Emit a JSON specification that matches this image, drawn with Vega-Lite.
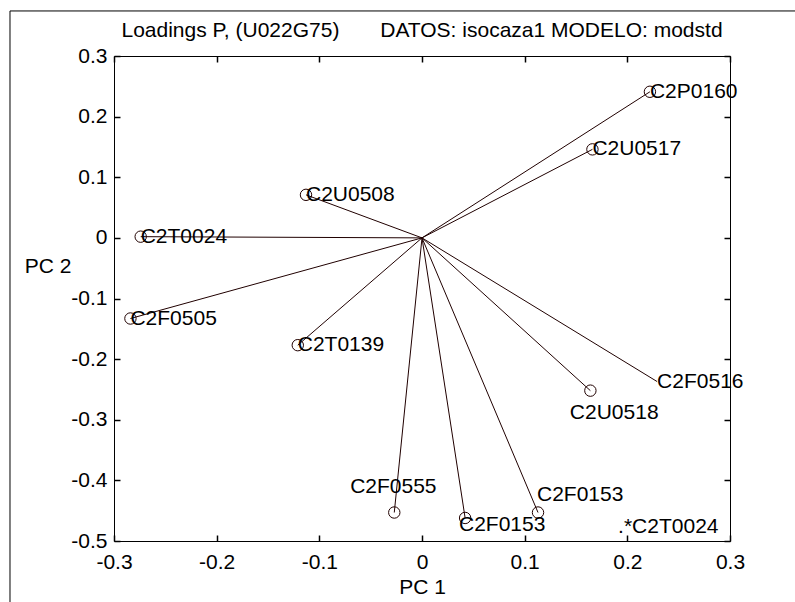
{
  "$schema": "https://vega.github.io/schema/vega-lite/v6.json",
  "width": 616,
  "height": 485,
  "autosize": {"type": "none"},
  "padding": {"left": 114, "top": 56, "right": 65, "bottom": 61},
  "background": "white",
  "config": {
    "font": "Liberation Sans",
    "view": {"stroke": "black", "strokeWidth": 1},
    "axis": {
      "grid": false,
      "domain": false,
      "ticks": true,
      "tickSize": 6,
      "offset": -6,
      "tickColor": "black",
      "tickWidth": 1.5,
      "tickOpacity": 1,
      "labelColor": "black",
      "labelFontSize": 21,
      "labelFlush": false,
      "labelOverlap": false,
      "labelBound": false,
      "titleColor": "black",
      "titleFontSize": 21,
      "titleFontWeight": "normal"
    }
  },
  "title": {
    "text": "Loadings P, (U022G75)\u00a0\u00a0\u00a0\u00a0\u00a0\u00a0\u00a0DATOS: isocaza1 MODELO: modstd",
    "fontSize": 21,
    "fontWeight": "normal",
    "color": "black",
    "anchor": "middle",
    "frame": "group",
    "baseline": "alphabetic",
    "offset": 14,
    "dy": 62
  },
  "datasets": {
    "loadings": [
      {"name": "C2P0160", "x": 0.222, "y": 0.241, "marker": "o"},
      {"name": "C2U0517", "x": 0.166, "y": 0.146, "marker": "o"},
      {"name": "C2U0508", "x": -0.113, "y": 0.071, "marker": "o"},
      {"name": "C2T0024", "x": -0.274, "y": 0.002, "marker": "o"},
      {"name": "C2F0505", "x": -0.284, "y": -0.133, "marker": "o"},
      {"name": "C2T0139", "x": -0.121, "y": -0.177, "marker": "o"},
      {"name": "C2U0518", "x": 0.164, "y": -0.252, "marker": "o"},
      {"name": "C2F0516", "x": 0.229, "y": -0.237, "marker": ""},
      {"name": "C2F0555", "x": -0.027, "y": -0.453, "marker": "o"},
      {"name": "C2F0153", "x": 0.042, "y": -0.462, "marker": "o"},
      {"name": "C2F0153b", "x": 0.113, "y": -0.453, "marker": "o"}
    ],
    "labels": [
      {"text": "C2P0160", "x": 0.222, "y": 0.241},
      {"text": "C2U0517", "x": 0.166, "y": 0.146},
      {"text": "C2U0508", "x": -0.113, "y": 0.071},
      {"text": "C2T0024", "x": -0.274, "y": 0.002},
      {"text": "C2F0505", "x": -0.284, "y": -0.133},
      {"text": "C2T0139", "x": -0.121, "y": -0.177},
      {"text": "C2F0516", "x": 0.229, "y": -0.237},
      {"text": "C2U0518", "x": 0.144, "y": -0.289},
      {"text": "C2F0555", "x": -0.07, "y": -0.411},
      {"text": "C2F0153", "x": 0.112, "y": -0.424},
      {"text": "C2F0153", "x": 0.036, "y": -0.474},
      {"text": ".*C2T0024", "x": 0.191, "y": -0.477}
    ]
  },
  "layer": [
    {
      "data": {"name": "loadings"},
      "mark": {"type": "rule", "color": "#200000", "strokeWidth": 1},
      "encoding": {
        "x": {
          "field": "x", "type": "quantitative",
          "scale": {"domain": [-0.3, 0.3], "nice": false, "zero": false},
          "axis": {
            "orient": "bottom",
            "values": [-0.3, -0.2, -0.1, 0, 0.1, 0.2, 0.3],
            "ticks": true,
            "tickSize": 6,
            "labelPadding": 27,
            "labelBaseline": "alphabetic",
            "labelExpr": "'' + datum.value",
            "title": "PC 1",
            "titleX": 308,
            "titleY": 58,
            "titleAlign": "center",
            "titleBaseline": "alphabetic"
          }
        },
        "y": {
          "field": "y", "type": "quantitative",
          "scale": {"domain": [-0.5, 0.3], "nice": false, "zero": false},
          "axis": {
            "orient": "left",
            "values": [-0.5, -0.4, -0.3, -0.2, -0.1, 0, 0.1, 0.2, 0.3],
            "ticks": true,
            "tickSize": 6,
            "labelPadding": 7,
            "labelBaseline": "middle",
            "labelExpr": "'' + datum.value",
            "title": "PC 2",
            "titleAngle": 0,
            "titleAlign": "right",
            "titleBaseline": "middle",
            "titleX": -49,
            "titleY": 210
          }
        },
        "x2": {"datum": 0},
        "y2": {"datum": 0}
      }
    },
    {
      "data": {"name": "loadings"},
      "transform": [{"filter": "datum.marker == 'o'"}],
      "mark": {"type": "point", "shape": "circle", "filled": false, "size": 130, "stroke": "#200000", "strokeWidth": 1, "opacity": 1},
      "encoding": {
        "x": {
          "field": "x", "type": "quantitative",
          "axis": {
            "orient": "top",
            "values": [-0.3, -0.2, -0.1, 0, 0.1, 0.2, 0.3],
            "ticks": true,
            "tickSize": 6,
            "labels": false,
            "title": null
          }
        },
        "y": {
          "field": "y", "type": "quantitative",
          "axis": {
            "orient": "right",
            "values": [-0.5, -0.4, -0.3, -0.2, -0.1, 0, 0.1, 0.2, 0.3],
            "ticks": true,
            "tickSize": 6,
            "labels": false,
            "title": null
          }
        }
      }
    },
    {
      "data": {"name": "labels"},
      "mark": {"type": "text", "align": "left", "baseline": "middle", "fontSize": 21, "color": "black"},
      "encoding": {
        "x": {"field": "x", "type": "quantitative", "axis": null},
        "y": {"field": "y", "type": "quantitative", "axis": null},
        "text": {"field": "text"}
      }
    },
    {
      "data": {"values": [{"edge": "left"}]},
      "mark": {"type": "rule", "color": "black", "strokeWidth": 1},
      "encoding": {
        "x": {"datum": -0.4013, "type": "quantitative", "axis": null},
        "y": {"datum": 0.3743, "type": "quantitative", "axis": null},
        "y2": {"datum": -0.61}
      }
    },
    {
      "data": {"values": [{"edge": "top"}]},
      "mark": {"type": "rule", "color": "black", "strokeWidth": 1},
      "encoding": {
        "x": {"datum": -0.4013, "type": "quantitative", "axis": null},
        "x2": {"datum": 0.37},
        "y": {"datum": 0.3743, "type": "quantitative", "axis": null}
      }
    }
  ]
}
